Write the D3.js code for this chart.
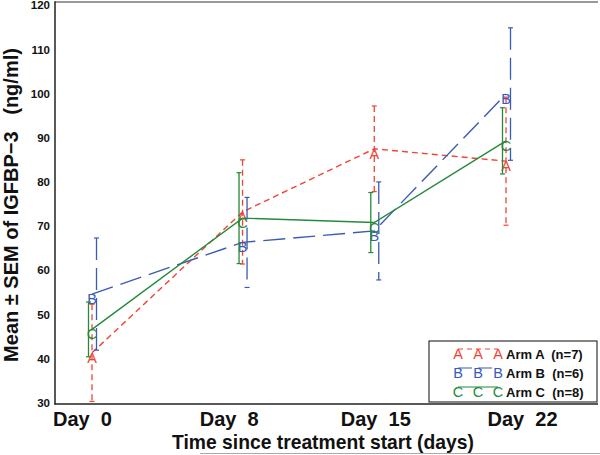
<!DOCTYPE html>
<html>
<head>
<meta charset="utf-8">
<script src="https://cdn.jsdelivr.net/npm/d3@7/dist/d3.min.js"></script>
<style>
  html, body { margin: 0; padding: 0; background: #fff; }
  svg { display: block; }
  text { font-family: "Liberation Sans", Arial, sans-serif; }
</style>
</head>
<body>
<svg id="chart" width="600" height="455"></svg>
<script>
// ---- data ----
const days = [0, 8, 15, 22];
const dayLabels = ["Day  0", "Day  8", "Day  15", "Day  22"];
const yTicks = [30, 40, 50, 60, 70, 80, 90, 100, 110, 120];

const armAMean = [41.3, 73.2, 87.5, 84.7];
const armASem  = [11.0, 11.8, 9.7, 14.5];

const armBMean = [54.6, 66.3, 68.9, 99.9];
const armBSem  = [12.7, 10.2, 11.1, 15.0];

const armCMean = [46.6, 71.8, 70.8, 89.3];
const armCSem  = [6.2, 10.3, 6.8, 7.5];

const legendLabels = ["Arm A  (n=7)", "Arm B  (n=6)", "Arm C  (n=8)"];

// ---- styles ----
const series = [
  { letter: "A", mean: armAMean, sem: armASem, color: "#f04534", dash: "6,4",  off: 0,    label: legendLabels[0] },
  { letter: "B", mean: armBMean, sem: armBSem, color: "#3a5bb5", dash: "22,8", off: 4.5,  label: legendLabels[1] },
  { letter: "C", mean: armCMean, sem: armCSem, color: "#258a3a", dash: null,   off: -3.5, label: legendLabels[2] }
];

const svg = d3.select("#chart");

const x = d3.scaleLinear().domain([0, 22]).range([92, 506]);
const y = d3.scaleLinear().domain([30, 120]).range([402.7, 5.3]);
const xLab = d3.scalePoint().domain(dayLabels).range([82, 522]);

// frame
svg.append("line").attr("x1", 55).attr("x2", 598).attr("y1", 2).attr("y2", 2)
  .attr("stroke", "#777").attr("stroke-width", 1.5);
svg.append("line").attr("x1", 55).attr("x2", 55).attr("y1", 1.3).attr("y2", 404.5)
  .attr("stroke", "#222").attr("stroke-width", 1.5);
svg.append("line").attr("x1", 54.3).attr("x2", 598).attr("y1", 404).attr("y2", 404)
  .attr("stroke", "#222").attr("stroke-width", 1.5);
// faint bottom line
svg.append("line").attr("x1", 200).attr("x2", 600).attr("y1", 453.5).attr("y2", 453.5)
  .attr("stroke", "#aaa").attr("stroke-width", 1);

// y axis (labels only)
const yAxis = d3.axisLeft(y).tickValues(yTicks).tickSize(0).tickPadding(0);
const gy = svg.append("g").attr("transform", "translate(50,0)").call(yAxis);
gy.select(".domain").remove();
gy.selectAll("text").attr("font-size", 11.5).attr("font-weight", "bold")
  .attr("font-family", "Liberation Sans, Arial, sans-serif").attr("fill", "#111");

// x axis labels
const xAxis = d3.axisBottom(xLab).tickSize(0).tickPadding(0);
const gx = svg.append("g").attr("transform", "translate(0,412)").call(xAxis);
gx.select(".domain").remove();
gx.selectAll("text").attr("font-size", 20).attr("font-weight", "bold")
  .attr("font-family", "Liberation Sans, Arial, sans-serif").attr("fill", "#111")
  .style("white-space", "pre").attr("dy", "0.71em");

// axis titles
svg.append("text").attr("x", 323).attr("y", 449).attr("text-anchor", "middle")
  .attr("font-size", 19.3).attr("font-weight", "bold").attr("fill", "#111")
  .text("Time since treatment start (days)");
svg.append("text").attr("transform", "translate(18,205) rotate(-90)")
  .attr("text-anchor", "middle").attr("font-size", 20).attr("font-weight", "bold")
  .attr("fill", "#111").style("white-space", "pre")
  .text("Mean \u00B1 SEM of IGFBP\u22123   (ng/ml)");

// series
const line = d3.line().x(d => x(d.day)).y(d => y(d.v));
series.forEach(s => {
  const pts = days.map((d, i) => ({ day: d, v: s.mean[i], sem: s.sem[i] }));
  const g = svg.append("g");
  // error bars
  pts.forEach(p => {
    const bx = x(p.day) + s.off;
    g.append("line").attr("x1", bx).attr("x2", bx)
      .attr("y1", y(p.v + p.sem)).attr("y2", y(p.v - p.sem))
      .attr("stroke", s.color).attr("stroke-width", 1.3)
      .attr("stroke-dasharray", s.dash);
    [p.v + p.sem, p.v - p.sem].forEach(v => {
      g.append("line").attr("x1", bx - 2.5).attr("x2", bx + 2.5)
        .attr("y1", y(v)).attr("y2", y(v))
        .attr("stroke", s.color).attr("stroke-width", 1.2);
    });
  });
  // mean line
  g.append("path").datum(pts).attr("d", line).attr("fill", "none")
    .attr("stroke", s.color).attr("stroke-width", 1.4)
    .attr("stroke-dasharray", s.dash);
  // letter markers
  g.selectAll("text.mk").data(pts).enter().append("text")
    .attr("x", p => x(p.day)).attr("y", p => y(p.v) + 10)
    .attr("text-anchor", "middle").attr("font-size", 14.5)
    .attr("fill", s.color).text(s.letter);
});

// legend
const lg = svg.append("g");
lg.append("rect").attr("x", 429).attr("y", 341).attr("width", 168).attr("height", 61)
  .attr("fill", "#fff").attr("stroke", "#333").attr("stroke-width", 1.2);
const legX = [458, 478, 498];
series.forEach((s, i) => {
  const ly = 349 + i * 19;
  lg.append("line").attr("x1", legX[0]).attr("x2", legX[2]).attr("y1", ly).attr("y2", ly)
    .attr("stroke", s.color).attr("stroke-width", 1.2)
    .attr("stroke-dasharray", s.dash ? (s.letter === "A" ? "5,4" : "14,6") : null);
  legX.forEach(lx => {
    lg.append("text").attr("x", lx).attr("y", ly + 10).attr("text-anchor", "middle")
      .attr("font-size", 14.5).attr("fill", s.color).text(s.letter);
  });
  lg.append("text").attr("x", 506).attr("y", ly + 9.5).attr("font-size", 13)
    .attr("font-weight", "bold").attr("fill", "#111").style("white-space", "pre")
    .text(s.label);
});
</script>
</body>
</html>
